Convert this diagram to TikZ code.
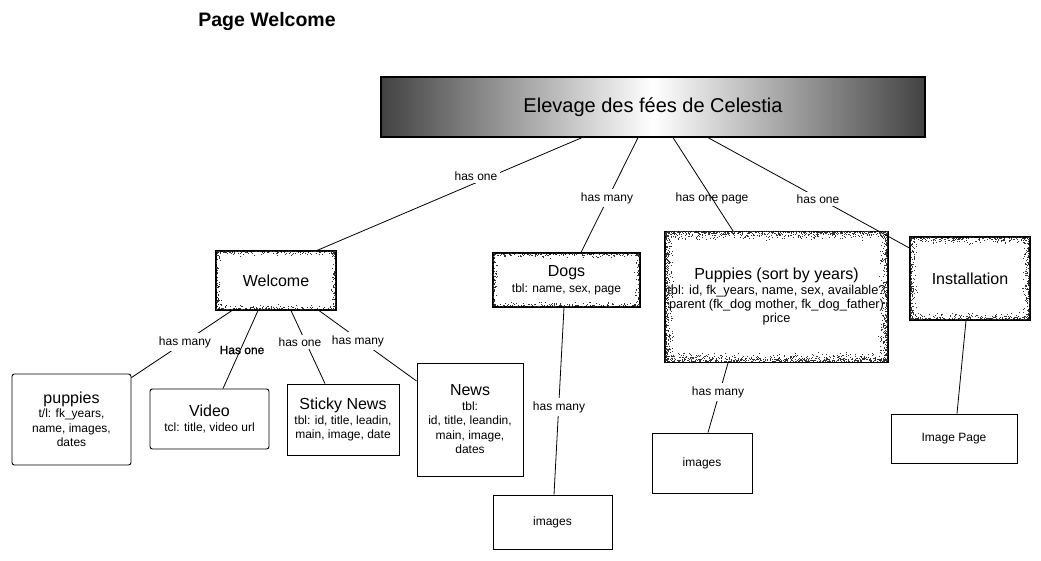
\documentclass[tikz,border=0pt]{standalone}
\usepackage{fontspec}
\setmainfont{Liberation Sans}
\newfontfamily\semibold[FakeBold=1]{Liberation Sans}
\newcommand\ftitle{\fontsize{16}{19}\selectfont}
\newcommand\fbody{\fontsize{12}{14.5}\selectfont}
\newcommand\noisyframe[6]{%
  \pgfmathtruncatemacro\nfnh{(#3-#1)*#5*#6}%
  \pgfmathtruncatemacro\nfnv{(#4-#2)*#5*#6}%
  \foreach \k in {1,...,\nfnh}{%
    \pgfmathsetmacro\ra{#1+rnd*(#3-#1-1)}%
    \pgfmathsetmacro\rb{#5*rnd*rnd}%
    \fill[black!80] (\ra,#2+\rb) rectangle ++(1,1);
    \pgfmathsetmacro\ra{#1+rnd*(#3-#1-1)}%
    \pgfmathsetmacro\rb{#5*rnd*rnd}%
    \fill[black!80] (\ra,#4-\rb-1) rectangle ++(1,1);
  }%
  \foreach \k in {1,...,\nfnv}{%
    \pgfmathsetmacro\ra{#2+rnd*(#4-#2-1)}%
    \pgfmathsetmacro\rb{#5*rnd*rnd}%
    \fill[black!80] (#1+\rb,\ra) rectangle ++(1,1);
    \pgfmathsetmacro\ra{#2+rnd*(#4-#2-1)}%
    \pgfmathsetmacro\rb{#5*rnd*rnd}%
    \fill[black!80] (#3-\rb-1,\ra) rectangle ++(1,1);
  }%
}
\tikzset{
  box/.style={draw=black, line width=0.9pt, inner sep=0pt, align=center, text=black, font=\fbody},
  rbox/.style={box, rounded corners=2.5pt},
  nbox/.style={draw=black, line width=1.1pt, inner sep=0pt, align=center, text=black, font=\fbody},
  lbl/.style={fill=white, inner sep=3pt, font=\fontsize{12}{14}\selectfont},
  lblnf/.style={inner sep=1pt, font=\fontsize{12}{14}\selectfont},
  conn/.style={draw=black, line width=0.8pt},
}
\begin{document}
\begin{tikzpicture}[x=1pt,y=-1pt]
\useasboundingbox (0,0) rectangle (1041,560);
\fill[white] (0,0) rectangle (1041,560);
\pgfmathsetseed{42}

% title
\node[font=\bfseries\fontsize{19.5}{23}\selectfont] (title) at (267,21) {Page Welcome};

% main box
\node[draw=black, line width=1.2pt, left color=black!74, right color=black!74, middle color=white,
      minimum width=544pt, minimum height=60pt, inner sep=0pt] (main) at (653,107)
      {\fontsize{20}{24}\selectfont Elevage des fées de Celestia};

% noisy boxes
\node[nbox, minimum width=120pt, minimum height=59pt] (welcome) at (276,280.5) {\ftitle Welcome};
\noisyframe{216}{251}{336}{310}{5}{0.24}
\node[nbox, minimum width=147pt, minimum height=54pt] (dogs) at (566.5,280)
  {{\ftitle Dogs}\\[1pt] tbl: name, sex, page};
\noisyframe{493}{253}{640}{307}{5}{0.24}
\node[nbox, minimum width=223pt, minimum height=131pt, font=\fontsize{12.8}{14}\selectfont] (pupyears) at (776.5,297)
  {{\ftitle Puppies (sort by years)}\\[1pt] tbl: id, fk\_years, name, sex, available?\\ parent (fk\_dog mother, fk\_dog\_father)\\ price};
\noisyframe{665}{231}{888}{362}{9}{0.32}
\node[nbox, minimum width=120pt, minimum height=83pt] (install) at (970,278.5) {\ftitle Installation};
\noisyframe{910}{237}{1030}{320}{7}{0.28}

% plain boxes
\node[rbox, minimum width=119pt, minimum height=91pt] (pups) at (71.5,419.5)
  {{\ftitle puppies}\\[0pt] t/l: fk\_years,\\ name, images,\\ dates};
\node[rbox, minimum width=119pt, minimum height=60pt] (video) at (209.5,419)
  {{\ftitle Video}\\[0pt] tcl: title, video url};
\node[box, minimum width=112pt, minimum height=71pt] (sticky) at (343,419.5)
  {{\ftitle Sticky News}\\[0pt] tbl: id, title, leadin,\\ main, image, date};
\node[box, minimum width=106pt, minimum height=113pt] (news) at (470,419.5)
  {{\ftitle News}\\[0pt] tbl:\\ id, title, leandin,\\ main, image,\\ dates};
\node[box, minimum width=119pt, minimum height=54pt] (img1) at (552.5,522) {images};
\node[box, minimum width=100pt, minimum height=60pt] (img2) at (702,463) {images};
\node[box, minimum width=126pt, minimum height=49pt] (imgpage) at (954,438.5) {Image Page};

% connectors
\draw[conn] ([xshift=-71pt]main.south) -- ([xshift=41pt]welcome.north);
\draw[conn] ([xshift=-15pt]main.south) -- ([xshift=14.5pt]dogs.north);
\draw[conn] ([xshift=20pt]main.south) -- ([xshift=-43.5pt]pupyears.north);
\draw[conn] ([xshift=55pt]main.south) -- ([yshift=30.5pt]install.west);
\draw[conn] ([xshift=-44pt]welcome.south) -- ([yshift=-4pt]pups.north east);
\draw[conn] ([xshift=-18pt]welcome.south) -- ([xshift=13.5pt]video.north);
\draw[conn] ([xshift=15pt]welcome.south) -- ([xshift=-18pt]sticky.north);
\draw[conn] ([xshift=43pt]welcome.south) -- ([yshift=38.5pt]news.west);
\draw[conn] ([xshift=-2.5pt]dogs.south) -- ([xshift=1.5pt]img1.north);
\draw[conn] ([xshift=-48.5pt]pupyears.south) -- ([xshift=6pt]img2.north);
\draw[conn] ([xshift=-4pt]install.south) -- ([xshift=3pt]imgpage.north);

% labels
\node[lbl] (l1) at (476,176) {has one};
\node[lbl] (l2) at (607,198) {has many};
\node[lblnf] (l3) at (712,198) {has one page};
\node[lbl] (l4) at (818,199) {has one};
\node[lbl] (l5) at (185,342) {has many};
\node[lblnf, font=\semibold\fontsize{12}{14}\selectfont] (l6) at (242,350) {Has one};
\node[lbl] (l7) at (300,342) {has one};
\node[lbl] (l8) at (358,341) {has many};
\node[lbl] (l9) at (559,407) {has many};
\node[lbl] (l10) at (718,392) {has many};
\end{tikzpicture}
\end{document}
